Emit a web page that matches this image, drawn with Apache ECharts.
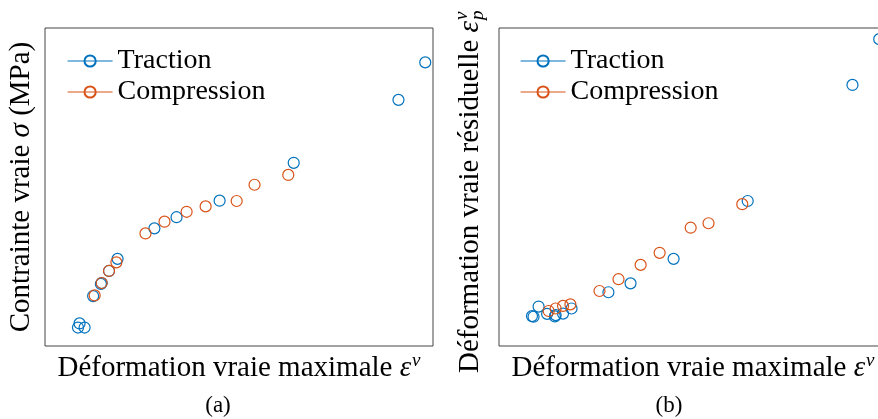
<!DOCTYPE html>
<html>
<head>
<meta charset="utf-8">
<script src="https://cdn.jsdelivr.net/npm/echarts@6/dist/echarts.min.js"></script>
<style>
html,body{margin:0;padding:0;background:#fff;}
#chart{width:878px;height:419px;}
</style>
</head>
<body>
<div id="chart"></div>
<script>
// Normalised strain / stress values (no tick labels in the original)
const seriesNames = ['Traction', 'Compression'];
const xTraction = [0.085, 0.089, 0.102, 0.124, 0.144, 0.146, 0.165, 0.187, 0.282, 0.339, 0.450, 0.641, 0.911, 0.980];
const stressTraction = [0.058, 0.071, 0.058, 0.157, 0.195, 0.198, 0.236, 0.274, 0.370, 0.405, 0.457, 0.576, 0.774, 0.892];
const residualTraction = [0.094, 0.092, 0.124, 0.101, 0.093, 0.097, 0.102, 0.118, 0.169, 0.197, 0.274, 0.456, 0.821, 0.965];
const xCompression = [0.128, 0.146, 0.165, 0.184, 0.259, 0.308, 0.365, 0.414, 0.494, 0.540, 0.627];
const stressCompression = [0.159, 0.198, 0.236, 0.263, 0.354, 0.391, 0.422, 0.439, 0.456, 0.507, 0.538];
const residualCompression = [0.110, 0.118, 0.126, 0.131, 0.173, 0.210, 0.255, 0.293, 0.372, 0.386, 0.446];

const BLUE = '#0072BD', ORANGE = '#D95319';
const FONT = "'Liberation Serif', 'DejaVu Serif', serif";

function pairs(xs, ys) { return xs.map((x, i) => [x, ys[i]]); }

function mkSeries(name, color, data, idx) {
  return {
    name: name, type: 'line', xAxisIndex: idx, yAxisIndex: idx,
    data: data, symbol: 'circle', symbolSize: 11, showSymbol: true,
    lineStyle: { color: color, width: 1.2, opacity: 0 },
    itemStyle: { color: 'rgba(0,0,0,0)', borderColor: color, borderWidth: 1.2 },
    emphasis: { disabled: true }, silent: true, z: 3
  };
}

function axisBase(extra) {
  return Object.assign({
    type: 'value', min: 0, max: 1,
    axisLine: { show: false }, axisTick: { show: false },
    axisLabel: { show: false }, splitLine: { show: false }
  }, extra);
}

const richX = {
  t: { fontFamily: FONT, fontSize: 29, color: '#000' },
  e: { fontFamily: FONT, fontSize: 29, fontStyle: 'italic', color: '#000' },
  s: { fontFamily: FONT, fontSize: 19, fontStyle: 'italic', color: '#000', padding: [0, 0, 15, 1] }
};
const xName = '{t|Déformation vraie maximale }{e|ε}{s|v}';

function legendOf(left) {
  return {
    data: seriesNames, orient: 'vertical', left: left, top: 47, padding: 0,
    itemWidth: 45, itemHeight: 14, itemGap: 3, selectedMode: false,
    lineStyle: { opacity: 1, width: 1.2 },
    textStyle: { fontFamily: FONT, fontSize: 28, color: '#000', lineHeight: 28 }
  };
}

const option = {
  animation: false,
  backgroundColor: '#fff',
  grid: [
    { left: 45, top: 28, width: 388, height: 318, show: true, borderColor: '#444', borderWidth: 1, backgroundColor: 'transparent', outerBoundsMode: 'none', containLabel: false },
    { left: 499, top: 28, width: 388, height: 318, show: true, borderColor: '#444', borderWidth: 1, backgroundColor: 'transparent', outerBoundsMode: 'none', containLabel: false }
  ],
  xAxis: [
    axisBase({ gridIndex: 0, name: xName, nameLocation: 'middle', nameGap: 5, nameTextStyle: { rich: richX, verticalAlign: 'top' } }),
    axisBase({ gridIndex: 1, name: xName, nameLocation: 'middle', nameGap: 5, nameTextStyle: { rich: richX, verticalAlign: 'top' } })
  ],
  yAxis: [
    axisBase({ gridIndex: 0, name: '{t|Contrainte vraie }{e|σ}{t| (MPa)}', nameLocation: 'middle', nameGap: 9, nameRotate: 90,
      nameTextStyle: { rich: richX } }),
    axisBase({ gridIndex: 1 })
  ],
  legend: [legendOf(67), legendOf(520)],
  series: [
    mkSeries(seriesNames[0], BLUE, pairs(xTraction, stressTraction), 0),
    mkSeries(seriesNames[1], ORANGE, pairs(xCompression, stressCompression), 0),
    mkSeries(seriesNames[0], BLUE, pairs(xTraction, residualTraction), 1),
    mkSeries(seriesNames[1], ORANGE, pairs(xCompression, residualCompression), 1)
  ],
  graphic: [
    {
      type: 'group', x: 470, y: 21, rotation: Math.PI / 2,
      children: [
        { type: 'text', x: 0, y: 0, style: { text: '{t|Déformation vraie résiduelle }{e|ε}', rich: richX, align: 'right', verticalAlign: 'middle', fill: '#000' } },
        { type: 'text', x: 1, y: -8, style: { text: 'v', font: 'italic 19px ' + FONT, align: 'left', verticalAlign: 'middle', fill: '#000' } },
        { type: 'text', x: 1, y: 8, style: { text: 'p', font: 'italic 19px ' + FONT, align: 'left', verticalAlign: 'middle', fill: '#000' } }
      ]
    },
    { type: 'text', x: 218, y: 406, style: { text: '(a)', font: '23px ' + FONT, align: 'center', verticalAlign: 'middle', fill: '#000' } },
    { type: 'text', x: 669, y: 406, style: { text: '(b)', font: '23px ' + FONT, align: 'center', verticalAlign: 'middle', fill: '#000' } }
  ]
};

const chart = echarts.init(document.getElementById('chart'), null, { renderer: 'canvas' });
chart.setOption(option);
</script>
</body>
</html>
